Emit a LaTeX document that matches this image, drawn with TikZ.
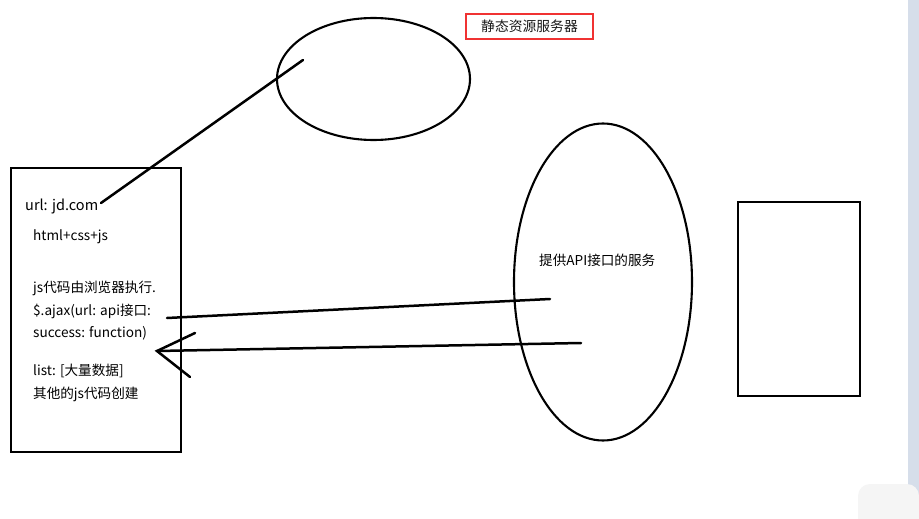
\documentclass[tikz,border=0pt]{standalone}
\usepackage{fontspec}
\setmainfont{Noto Sans CJK SC}
\usetikzlibrary{shapes.geometric}
\definecolor{scrollc}{RGB}{214,222,234}
\definecolor{redc}{RGB}{240,50,50}
\begin{document}
\begin{tikzpicture}[x=1pt,y=-1pt,
  thickline/.style={line width=2.5pt, line cap=round},
  ell/.style={draw, ellipse, line width=2.1pt, inner sep=0pt},
  boxtxt/.style={anchor=base west, inner sep=0pt, font=\fontsize{13.6}{15}\selectfont, text=black},
  redbox/.style={draw=redc, line width=2pt, minimum width=127pt, minimum height=25pt, inner sep=0pt, font=\fontsize{13.8}{15}\selectfont, text=black!90}
]
\useasboundingbox (0,0) rectangle (919,519);
\fill[white] (0,0) rectangle (919,519);
% scrollbar artifact
\fill[scrollc] (908,0) rectangle (919,519);
\fill[black!4, rounded corners=12pt] (858,484) rectangle (919,530);

% top ellipse (static resource server)
\node[ell, minimum width=193pt, minimum height=122pt] (static) at (373.5,79) {};
\node[redbox] (label) at (529.5,26.5) {静态资源服务器};

% browser box
\node[draw, line width=2.8pt, minimum width=170pt, minimum height=284pt, inner sep=0pt] (browser) at (96,310) {};
\node[boxtxt, font=\fontsize{14.5}{16}\selectfont] (t1) at (25,210) {url: jd.com};
\node[boxtxt] (t2) at (33,240) {html+css+js};
\node[boxtxt] (t3) at (33,292) {js代码由浏览器执行.};
\node[boxtxt] (t4) at (33,315) {\$.ajax(url: api接口:};
\node[boxtxt] (t5) at (33,337) {success: function)};
\node[boxtxt] (t6) at (33,375) {list: [大量数据]};
\node[boxtxt] (t7) at (33,398) {其他的js代码创建};

% API server ellipse
\node[ell, minimum width=178pt, minimum height=317pt] (api) at (603,282) {};
\node[boxtxt] (apitxt) at (539,265) {提供API接口的服务};

% right box
\node[draw, line width=2.2pt, minimum width=122pt, minimum height=194pt, inner sep=0pt] (right) at (799,299) {};

% connectors
\coordinate (s1) at (303,60);
\coordinate (u1) at (101,203);
\draw[thickline] (s1) -- (u1);

\coordinate (r1) at (550,299);
\coordinate (r2) at (167,318);
\draw[thickline] (r1) -- (r2);

\coordinate (a1) at (581,343);
\coordinate (a2) at (157,351);
\coordinate (h1) at (195,333);
\coordinate (h2) at (190,377);
\draw[thickline] (a1) -- (a2);
\draw[thickline] (h1) -- (a2) -- (h2);
\end{tikzpicture}
\end{document}
